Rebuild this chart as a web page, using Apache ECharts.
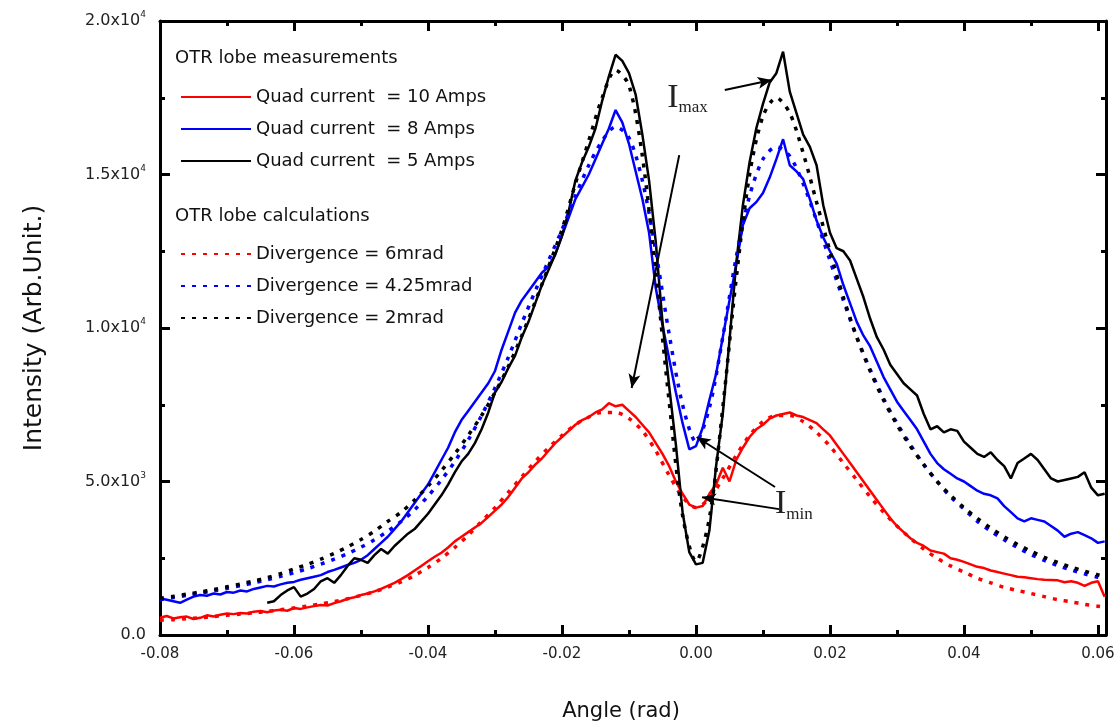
<!DOCTYPE html>
<html>
<head>
<meta charset="utf-8">
<script src="https://cdn.jsdelivr.net/npm/echarts@6/dist/echarts.min.js"></script>
<style>
    html, body { margin: 0; padding: 0; background: #fff; }
    #chart { width: 1120px; height: 727px; }
</style>
</head>
<body>
<div id="chart"></div>
<script>
// angle grid of the measured lobes (rad)
var measAngle = [-0.080,-0.079,-0.078,-0.077,-0.076,-0.075,-0.074,-0.073,-0.072,-0.071,
    -0.070,-0.069,-0.068,-0.067,-0.066,-0.065,-0.064,-0.063,-0.062,-0.061,
    -0.060,-0.059,-0.058,-0.057,-0.056,-0.055,-0.054,-0.053,-0.052,-0.051,
    -0.050,-0.049,-0.048,-0.047,-0.046,-0.045,-0.044,-0.043,-0.042,-0.041,
    -0.040,-0.039,-0.038,-0.037,-0.036,-0.035,-0.034,-0.033,-0.032,-0.031,
    -0.030,-0.029,-0.028,-0.027,-0.026,-0.025,-0.024,-0.023,-0.022,-0.021,
    -0.020,-0.019,-0.018,-0.017,-0.016,-0.015,-0.014,-0.013,-0.012,-0.011,
    -0.010,-0.009,-0.008,-0.007,-0.006,-0.005,-0.004,-0.003,-0.002,-0.001,
    0.000,0.001,0.002,0.003,0.004,0.005,0.006,0.007,0.008,0.009,
    0.010,0.011,0.012,0.013,0.014,0.015,0.016,0.017,0.018,0.019,
    0.020,0.021,0.022,0.023,0.024,0.025,0.026,0.027,0.028,0.029,
    0.030,0.031,0.032,0.033,0.034,0.035,0.036,0.037,0.038,0.039,
    0.040,0.041,0.042,0.043,0.044,0.045,0.046,0.047,0.048,0.049,
    0.050,0.051,0.052,0.053,0.054,0.055,0.056,0.057,0.058,0.059,
    0.060,0.061];

// Quad current = 10 Amps
var meas10 = [560,620,540,580,600,520,560,640,600,660,
    700,680,720,700,760,780,740,800,820,790,
    880,850,900,940,980,960,1040,1100,1180,1230,
    1300,1350,1420,1500,1600,1700,1820,1950,2100,2250,
    2400,2550,2680,2850,3050,3200,3350,3500,3650,3850,
    4050,4250,4500,4800,5100,5300,5550,5750,6000,6250,
    6450,6650,6850,7000,7100,7250,7350,7550,7450,7500,
    7300,7100,6850,6600,6250,5900,5500,5000,4600,4250,
    4150,4200,4600,4900,5450,5000,5700,6100,6450,6700,
    6850,7050,7150,7200,7250,7150,7100,7000,6900,6700,
    6500,6200,5900,5600,5300,5000,4700,4400,4100,3800,
    3550,3350,3150,3000,2900,2750,2700,2650,2500,2450,
    2380,2300,2220,2180,2100,2050,2000,1950,1900,1880,
    1850,1820,1800,1790,1780,1720,1750,1700,1600,1700,
    1750,1250];

// Quad current = 8 Amps
var meas8 = [1200,1150,1100,1050,1150,1250,1300,1280,1350,1320,
    1400,1380,1450,1420,1500,1550,1600,1580,1650,1700,
    1730,1800,1850,1900,1950,2050,2120,2200,2280,2350,
    2450,2600,2800,3000,3200,3450,3700,4000,4300,4600,
    4900,5300,5700,6100,6600,7000,7300,7600,7900,8200,
    8600,9300,9900,10500,10900,11200,11500,11800,12000,12400,
    13000,13600,14200,14600,15000,15500,16000,16500,17100,16700,
    16000,15100,14200,13100,11300,10100,9000,7900,6900,6050,
    6150,6750,7650,8500,9700,10900,12050,13350,13900,14100,
    14400,14900,15500,16150,15300,15100,14850,14200,13500,12950,
    12500,12100,11400,10800,10200,9750,9400,8900,8400,8000,
    7600,7300,7000,6700,6300,5900,5600,5400,5250,5100,
    5000,4850,4700,4600,4550,4450,4200,4000,3800,3700,
    3800,3750,3700,3550,3400,3200,3300,3350,3250,3150,
    3000,3050];

// Quad current = 5 Amps (starts at -0.064)
var meas5 = [null,null,null,null,null,null,null,null,null,null,
    null,null,null,null,null,null,1050,1100,1300,1450,
    1560,1250,1350,1500,1750,1850,1700,1950,2250,2500,
    2450,2350,2600,2800,2650,2900,3100,3300,3450,3700,
    3950,4250,4550,4900,5300,5650,5900,6250,6700,7250,
    7900,8250,8700,9100,9700,10200,10800,11400,11900,12400,
    13000,13800,14800,15400,15900,16500,17400,18200,18900,18700,
    18300,17600,16300,14800,12800,10200,8100,6200,4000,2700,
    2300,2350,3400,5500,7200,9600,12100,14000,15400,16500,
    17300,18000,18300,19000,17700,17000,16300,15900,15300,14000,
    13100,12600,12500,12200,11600,11000,10300,9700,9300,8800,
    8500,8200,8000,7800,7200,6700,6800,6600,6700,6650,
    6300,6100,5900,5800,5950,5700,5500,5100,5600,5750,
    5900,5700,5400,5100,5000,5050,5100,5150,5300,4800,
    4550,4600];

// angle grid of the calculated lobes (rad)
var calcAngle = [-0.080,-0.078,-0.076,-0.074,-0.072,-0.070,-0.068,-0.066,-0.064,-0.062,
    -0.060,-0.058,-0.056,-0.054,-0.052,-0.050,-0.048,-0.046,-0.044,-0.042,
    -0.040,-0.038,-0.036,-0.034,-0.032,-0.030,-0.028,-0.026,-0.024,-0.022,
    -0.020,-0.018,-0.016,-0.014,-0.012,-0.010,-0.008,-0.006,-0.004,-0.002,
    0.000,0.002,0.004,0.006,0.008,0.010,0.012,0.014,0.016,0.018,
    0.020,0.022,0.024,0.026,0.028,0.030,0.032,0.034,0.036,0.038,
    0.040,0.042,0.044,0.046,0.048,0.050,0.052,0.054,0.056,0.058,
    0.060,0.061];

// Divergence = 6mrad
var calc6 = [480,500,530,560,600,640,680,720,770,820,
    880,940,1010,1090,1180,1290,1410,1560,1730,1940,
    2200,2500,2850,3250,3700,4150,4650,5150,5650,6100,
    6500,6850,7100,7250,7250,7050,6650,6000,5200,4500,
    4150,4450,5100,5850,6500,6950,7150,7150,6950,6600,
    6150,5600,5050,4500,4000,3550,3150,2800,2500,2250,
    2050,1850,1700,1550,1450,1350,1250,1150,1080,1000,
    940,910];

// Divergence = 4.25mrad
var calc425 = [1150,1220,1290,1360,1440,1520,1610,1700,1800,1910,
    2030,2160,2310,2470,2650,2860,3100,3380,3700,4080,
    4520,5050,5650,6350,7150,8050,9050,10150,11200,12200,
    13200,14300,15300,16100,16550,16200,14800,12500,9800,7500,
    6300,7400,9700,12300,14300,15500,15900,15600,14700,13500,
    12200,10900,9700,8650,7700,6900,6200,5550,5000,4500,
    4100,3700,3380,3100,2850,2620,2430,2260,2120,1990,
    1880,1830];

// Divergence = 2mrad
var calc2 = [1200,1260,1330,1400,1480,1570,1660,1760,1870,2000,
    2150,2300,2470,2660,2870,3110,3380,3700,4000,4400,
    4850,5350,5900,6500,7150,7900,8750,9750,10850,12000,
    13200,14700,16100,17500,18400,17900,15600,11800,7600,3900,
    2400,3800,7400,11600,15000,16900,17500,17000,15700,14100,
    12500,11000,9700,8600,7650,6850,6150,5550,5000,4550,
    4150,3800,3480,3200,2950,2730,2530,2360,2210,2080,
    1960,1900];

var yTicks = ['0.0', '5.0x10|3', '1.0x10|4', '1.5x10|4', '2.0x10|4'];

function pairs(xs, ys) {
    var out = [];
    for (var i = 0; i < xs.length; i++) {
        if (ys[i] != null) out.push([xs[i], ys[i]]);
    }
    return out;
}

var FONT = 'DejaVu Sans';
var measNames = ['Quad current  = 10 Amps', 'Quad current  = 8 Amps', 'Quad current  = 5 Amps'];
var calcNames = ['Divergence = 6mrad', 'Divergence = 4.25mrad', 'Divergence = 2mrad'];

function measSeries(name, color, data) {
    return {
        name: name, type: 'line', xAxisIndex: 0, yAxisIndex: 0,
        data: data, symbol: 'none', showSymbol: false,
        lineStyle: { color: color, width: 2.5 },
        itemStyle: { color: color },
        animation: false, silent: true
    };
}
function calcSeries(name, color, data) {
    return {
        name: name, type: 'line', xAxisIndex: 0, yAxisIndex: 0,
        data: data, symbol: 'none', showSymbol: false, smooth: 0.3,
        lineStyle: { color: color, width: 3.5, type: [4, 7] },
        itemStyle: { color: color },
        animation: false, silent: true
    };
}

var axisLineStyle = { show: true, onZero: false, lineStyle: { color: '#000', width: 3 } };
var tickStyle = { inside: true, length: 10, lineStyle: { width: 3, color: '#000' } };
var minorStyle = { show: true, splitNumber: 2, length: 5, lineStyle: { width: 3, color: '#000' } };

var legendText = { fontSize: 18, color: '#111', lineHeight: 18, fontFamily: FONT };

var option = {
    backgroundColor: '#fff',
    animation: false,
    textStyle: { fontFamily: FONT },
    grid: { left: 160, right: 14, top: 21, bottom: 92 },
    xAxis: [{
        type: 'value', min: -0.08, max: 0.0612, interval: 0.02,
        name: 'Angle (rad)', nameLocation: 'middle', nameGap: 66,
        nameTextStyle: { fontSize: 21, color: '#111', fontFamily: FONT, padding: [0, 24, 0, 0] },
        axisLine: axisLineStyle,
        axisTick: tickStyle,
        minorTick: minorStyle,
        splitLine: { show: false },
        axisLabel: {
            fontSize: 15, color: '#222', margin: 12, showMaxLabel: false,
            formatter: function (v) { return v.toFixed(2); }
        }
    }, {
        type: 'value', position: 'top', min: -0.08, max: 0.0612, interval: 0.02,
        axisLine: axisLineStyle,
        axisTick: tickStyle,
        minorTick: minorStyle,
        splitLine: { show: false },
        axisLabel: { show: false }
    }],
    yAxis: [{
        type: 'value', min: 0, max: 20000, interval: 5000,
        name: 'Intensity (Arb.Unit.)', nameLocation: 'middle', nameGap: 113,
        nameTextStyle: { fontSize: 25, color: '#111', fontFamily: FONT },
        axisLine: axisLineStyle,
        axisTick: tickStyle,
        minorTick: minorStyle,
        splitLine: { show: false },
        axisLabel: {
            margin: 14, color: '#222', fontSize: 16,
            formatter: function (v, i) {
                var t = yTicks[i].split('|');
                return t.length > 1 ? '{b|' + t[0] + '}{s|' + t[1] + '}' : '{b|' + t[0] + '}';
            },
            rich: {
                b: { fontSize: 16, color: '#222', fontFamily: FONT },
                s: { fontSize: 9, color: '#222', fontFamily: FONT, verticalAlign: 'top', padding: [0, 0, 12, 0] }
            }
        }
    }, {
        type: 'value', position: 'right', min: 0, max: 20000, interval: 5000,
        axisLine: axisLineStyle,
        axisTick: tickStyle,
        minorTick: minorStyle,
        splitLine: { show: false },
        axisLabel: { show: false }
    }],
    legend: [{
        data: measNames, orient: 'vertical', left: 175, top: 83,
        itemWidth: 70, itemHeight: 14, itemGap: 14, selectedMode: false,
        itemStyle: { opacity: 0 },
        textStyle: legendText
    }, {
        data: calcNames, orient: 'vertical', left: 175, top: 240,
        itemWidth: 70, itemHeight: 14, itemGap: 14, selectedMode: false,
        itemStyle: { opacity: 0 },
        textStyle: legendText
    }],
    graphic: [{
        type: 'text', left: 175, top: 49,
        style: { text: 'OTR lobe measurements', fontSize: 18, fill: '#111', fontFamily: FONT }
    }, {
        type: 'text', left: 175, top: 207,
        style: { text: 'OTR lobe calculations', fontSize: 18, fill: '#111', fontFamily: FONT }
    }],
    series: [
        measSeries(measNames[0], '#ff0000', pairs(measAngle, meas10)),
        measSeries(measNames[1], '#0000ff', pairs(measAngle, meas8)),
        measSeries(measNames[2], '#000000', pairs(measAngle, meas5)),
        calcSeries(calcNames[0], '#ff0000', pairs(calcAngle, calc6)),
        calcSeries(calcNames[1], '#0000ff', pairs(calcAngle, calc425)),
        calcSeries(calcNames[2], '#000000', pairs(calcAngle, calc2)),
        {
            name: 'annotations', type: 'line', data: [], silent: true,
            markLine: {
                silent: true, animation: false,
                symbolSize: [9, 14],
                lineStyle: { color: '#000', width: 2, type: 'solid' },
                label: { show: false },
                data: [
                    [{ coord: [-0.0025, 15630], symbol: 'none' }, { coord: [-0.0096, 8045], symbol: 'arrow' }],
                    [{ coord: [0.0043, 17750], symbol: 'none' }, { coord: [0.0113, 18080], symbol: 'arrow' }],
                    [{ coord: [0.0118, 4820], symbol: 'none' }, { coord: [0.0001, 6450], symbol: 'arrow' }],
                    [{ coord: [0.0124, 4100], symbol: 'none' }, { coord: [0.0009, 4490], symbol: 'arrow' }]
                ]
            },
            markPoint: {
                silent: true, animation: false,
                symbol: 'circle', symbolSize: 0,
                label: {
                    show: true, position: 'right', distance: 0,
                    rich: {
                        i: { fontSize: 34, fontFamily: 'Liberation Serif', color: '#222' },
                        s: { fontSize: 17, fontFamily: 'Liberation Serif', color: '#222', padding: [20, 0, 0, 0] }
                    }
                },
                data: [
                    { coord: [-0.0043, 17500], label: { formatter: '{i|I}{s|max}' } },
                    { coord: [0.0118, 4250], label: { formatter: '{i|I}{s|min}' } }
                ]
            }
        }
    ]
};

var myChart = echarts.init(document.getElementById('chart'));
myChart.setOption(option);
</script>
</body>
</html>
